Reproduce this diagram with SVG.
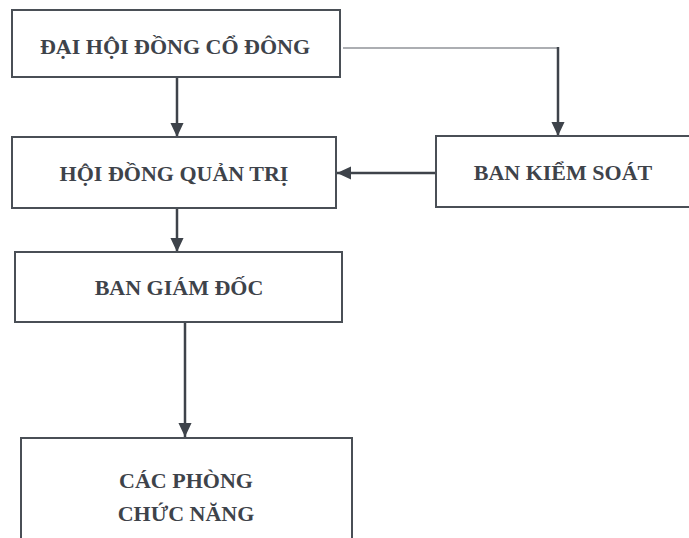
<svg xmlns="http://www.w3.org/2000/svg" width="689" height="538" viewBox="0 0 689 538">
  <style>
    .box { fill: #ffffff; stroke: #4a4f56; stroke-width: 2; }
    .lbl { font-family: "Liberation Serif", "Times New Roman", serif; font-weight: bold; font-size: 22px; fill: #3e434a; text-anchor: middle; }
    .conn { fill: none; stroke: #3e434a; stroke-width: 2.5; }
    .thin { fill: none; stroke: #5a5f66; stroke-width: 1.2; }
  </style>
  <defs>
    <marker id="arrow" markerUnits="userSpaceOnUse" markerWidth="14" markerHeight="14" refX="15" refY="7" orient="auto" viewBox="0 0 15 14">
      <path d="M0,0 L15,7 L0,14 z" fill="#3e434a"/>
    </marker>
  </defs>
  <rect width="689" height="538" fill="#ffffff"/>

  <g id="connectors">
    <path class="conn" d="M177,77 V137" marker-end="url(#arrow)"/>
    <path class="conn" d="M177,208 V252" marker-end="url(#arrow)"/>
    <path class="conn" d="M185,322 V437" marker-end="url(#arrow)"/>
    <path class="thin" d="M343,48 H558"/>
    <path class="conn" d="M558,47 V136" marker-end="url(#arrow)"/>
    <path class="conn" d="M436,173 H337" marker-end="url(#arrow)"/>
  </g>

  <g id="dai-hoi-dong-co-dong">
    <rect class="box" x="12" y="10" width="328" height="67"/>
    <text class="lbl" x="175" y="54">ĐẠI HỘI ĐỒNG CỔ ĐÔNG</text>
  </g>

  <g id="hoi-dong-quan-tri">
    <rect class="box" x="12" y="137" width="324" height="71"/>
    <text class="lbl" x="174" y="181">HỘI ĐỒNG QUẢN TRỊ</text>
  </g>

  <g id="ban-kiem-soat">
    <rect class="box" x="436" y="136" width="262" height="71"/>
    <text class="lbl" x="563" y="180">BAN KIỂM SOÁT</text>
  </g>

  <g id="ban-giam-doc">
    <rect class="box" x="15" y="252" width="327" height="70"/>
    <text class="lbl" x="179" y="295">BAN GIÁM ĐỐC</text>
  </g>

  <g id="cac-phong-chuc-nang">
    <rect class="box" x="21" y="438" width="331" height="110"/>
    <text class="lbl" x="186" y="488">CÁC PHÒNG</text>
    <text class="lbl" x="186" y="521">CHỨC NĂNG</text>
  </g>
</svg>
